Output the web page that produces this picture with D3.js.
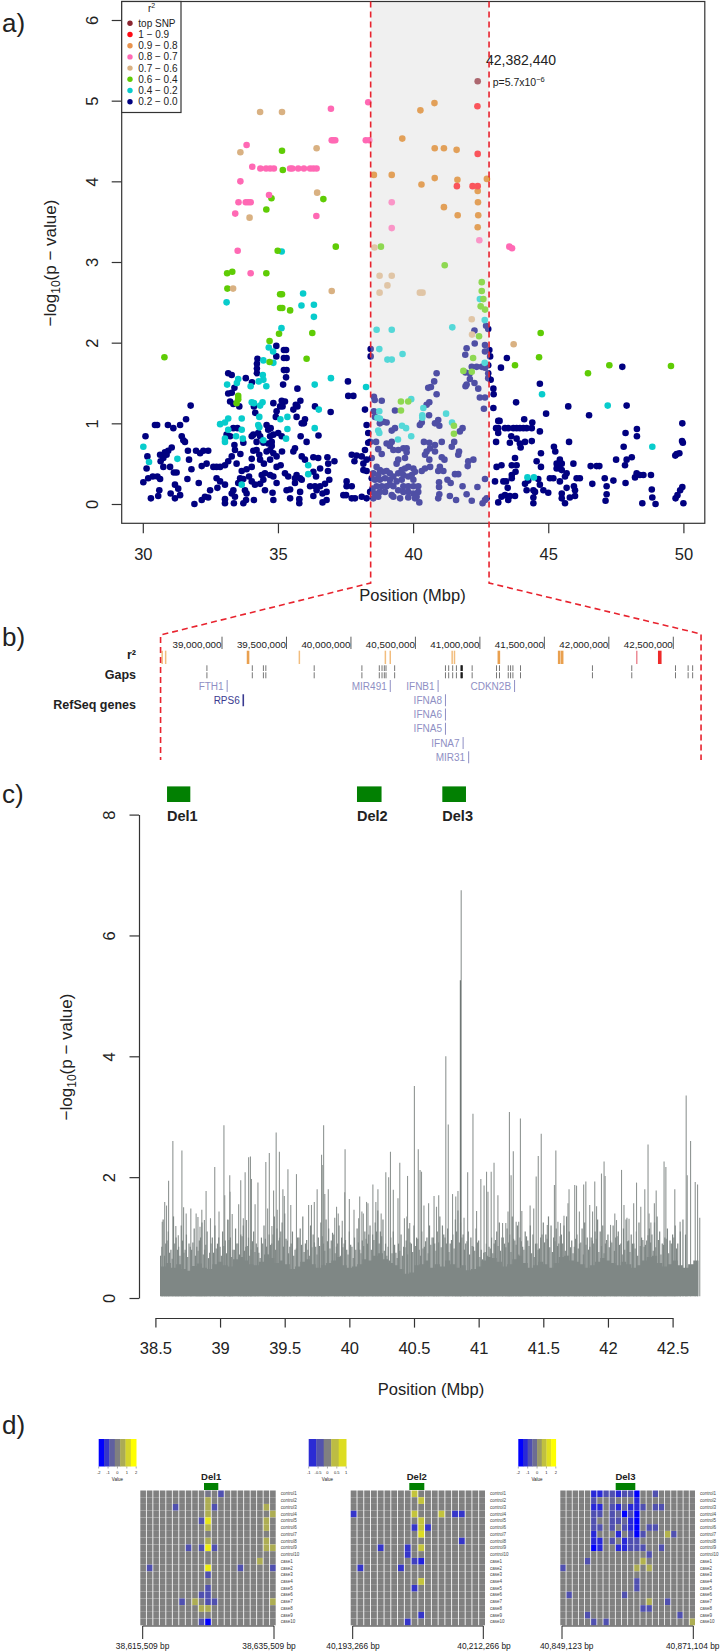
<!DOCTYPE html>
<html>
<head>
<meta charset="utf-8">
<script src="https://cdn.jsdelivr.net/npm/d3@7"></script>
<style>
body { margin: 0; background: #fff; }
text { font-family: "Liberation Sans", Arial, sans-serif; fill: #222; }
</style>
</head>
<body>
<script>
// a) -log10(p) against position in Mbp, one list for each r2 class
const topSnp = [[42.39,5.24]];
const r2Red = [[42.38,4.93],[42.39,4.34],[41.62,3.94],[42.20,3.94],[42.39,3.94]];
const r2Orange = [[40.79,4.97],[40.27,4.88],[39.60,4.53],[40.80,4.41],[41.14,4.41],[41.61,4.39],[38.55,4.08],[39.21,4.08],[40.80,4.04],[40.31,3.96],[41.64,4.02],[42.73,4.03],[42.39,3.88],[42.40,3.74],[41.14,3.68],[41.65,3.58],[42.41,3.58],[42.39,3.43]];
const r2Pink = [[38.34,4.98],[36.96,4.90],[36.99,4.51],[37.05,4.51],[37.12,4.51],[38.25,4.51],[38.38,4.51],[33.84,4.45],[34.05,4.18],[34.35,4.16],[34.56,4.16],[34.71,4.16],[34.85,4.16],[35.45,4.16],[35.53,4.16],[35.75,4.16],[35.96,4.16],[36.19,4.16],[36.31,4.16],[36.43,4.16],[33.61,4.0],[34.67,3.83],[33.54,3.74],[33.81,3.74],[33.90,3.74],[33.99,3.74],[33.42,3.60],[36.42,3.57],[33.51,3.14],[39.21,3.74],[39.21,3.42],[42.45,3.27],[43.56,3.19],[43.66,3.17],[33.99,2.86]];
const r2Tan = [[34.34,4.86],[35.15,4.86],[33.61,4.36],[36.43,4.41],[36.45,3.86],[33.95,3.55],[38.57,3.18],[33.34,2.67],[36.99,2.64],[38.76,2.83],[39.21,2.83],[39.05,2.71],[38.76,2.62],[40.25,2.62],[40.35,2.62],[42.17,2.29],[42.18,2.10],[43.72,1.98]];
const r2Green = [[35.15,4.38],[35.18,4.14],[34.76,3.79],[36.68,3.78],[34.57,3.65],[34.99,3.14],[37.14,3.19],[38.81,3.19],[41.17,2.96],[33.12,2.86],[33.31,2.88],[34.57,2.86],[33.13,2.67],[35.08,2.60],[35.15,2.60],[35.08,2.43],[35.16,2.43],[35.45,2.40],[35.04,2.11],[36.27,2.12],[34.69,2.02],[34.69,1.76],[36.06,1.80],[30.80,1.82],[33.53,1.34],[33.53,1.30],[33.47,1.25],[42.54,2.75],[42.54,2.64],[42.60,2.54],[42.50,2.45],[42.66,2.41],[42.44,2.08],[42.22,1.81],[41.86,1.65],[42.17,1.64],[43.77,1.72],[44.66,1.82],[44.72,2.12],[46.47,1.62],[47.26,1.72],[39.55,1.27],[39.82,1.27],[39.55,1.16],[41.51,0.97],[41.51,0.87],[49.54,1.71]];
const r2Cyan = [[35.14,3.13],[33.10,2.50],[35.93,2.61],[35.87,2.46],[36.33,2.47],[36.33,2.32],[35.13,2.18],[34.66,1.94],[34.82,1.89],[34.46,1.78],[34.83,1.75],[34.44,1.60],[34.46,1.54],[34.29,1.52],[33.53,1.55],[33.48,1.50],[33.12,1.48],[33.99,1.46],[34.57,1.46],[36.96,1.56],[36.36,1.48],[38.26,1.45],[34.03,1.26],[34.11,1.25],[34.43,1.26],[34.34,1.22],[36.51,1.17],[34.31,1.08],[35.35,1.08],[35.09,1.05],[32.86,0.99],[33.04,1.01],[33.16,1.06],[33.66,1.06],[33.16,0.92],[33.66,0.92],[34.27,0.98],[34.31,0.95],[36.36,0.94],[35.35,0.93],[33.04,0.81],[33.04,0.77],[33.45,0.84],[33.70,0.81],[34.46,0.79],[35.30,0.81],[30.02,0.71],[30.23,0.52],[31.28,0.56],[36.12,0.48],[36.12,0.37],[33.66,0.24],[42.47,2.54],[42.65,2.28],[38.65,2.16],[39.21,2.16],[41.45,2.19],[38.75,1.92],[39.61,1.86],[39.05,1.79],[39.21,1.79],[42.65,1.75],[39.93,1.30],[40.38,1.19],[40.34,1.10],[40.34,1.07],[41.22,1.12],[38.75,1.15],[38.68,1.07],[38.77,1.06],[39.59,0.97],[39.74,0.94],[41.44,1.01],[38.71,0.91],[38.75,0.88],[39.93,0.84],[39.44,0.80],[44.77,1.36],[47.20,1.22],[48.85,0.71],[44.23,0.33],[44.47,0.33]];
const r2Navy = [[34.94,1.96],[35.22,1.91],[35.30,1.91],[34.94,1.83],[35.22,1.81],[35.32,1.81],[34.24,1.80],[34.22,1.74],[34.22,1.68],[34.22,1.62],[35.22,1.66],[35.32,1.66],[35.30,1.57],[33.16,1.62],[33.29,1.60],[33.81,1.56],[34.04,1.51],[35.19,1.48],[35.72,1.43],[37.59,1.52],[33.39,1.44],[33.16,1.37],[33.29,1.38],[37.60,1.34],[37.79,1.34],[33.23,1.27],[33.35,1.24],[33.57,1.21],[31.77,1.22],[34.83,1.25],[35.14,1.28],[35.26,1.27],[35.08,1.21],[34.95,1.15],[35.17,1.21],[35.83,1.28],[35.66,1.23],[35.57,1.17],[35.72,1.21],[36.37,1.21],[36.95,1.14],[34.11,1.21],[34.16,1.13],[34.92,1.08],[35.69,1.08],[36.00,1.05],[35.88,1.00],[35.96,1.00],[31.60,1.05],[31.38,0.98],[31.13,0.94],[30.93,0.98],[30.45,0.98],[30.53,0.98],[33.35,0.94],[33.50,0.94],[34.58,0.98],[34.64,0.92],[34.73,0.94],[36.50,0.85],[30.10,0.84],[31.44,0.84],[31.50,0.79],[31.56,0.77],[33.10,0.86],[33.23,0.84],[33.72,0.76],[34.03,0.84],[34.09,0.86],[34.27,0.88],[34.34,0.84],[34.71,0.84],[34.83,0.86],[35.01,0.88],[35.14,0.84],[35.84,0.84],[36.06,0.77],[34.21,0.77],[34.46,0.76],[34.64,0.75],[34.77,0.77],[31.07,0.70],[30.94,0.66],[30.82,0.64],[30.64,0.61],[30.17,0.59],[30.88,0.61],[30.76,0.57],[30.66,0.53],[31.01,0.46],[30.76,0.46],[30.14,0.44],[31.67,0.66],[31.71,0.55],[31.80,0.43],[31.97,0.66],[32.12,0.63],[32.24,0.66],[32.42,0.66],[32.18,0.47],[32.36,0.50],[32.61,0.46],[32.73,0.46],[32.86,0.46],[33.04,0.48],[33.16,0.53],[33.29,0.59],[33.41,0.67],[33.39,0.73],[33.47,0.50],[33.66,0.41],[33.84,0.43],[34.03,0.46],[33.61,0.62],[34.03,0.56],[34.09,0.66],[34.21,0.67],[34.31,0.61],[34.34,0.55],[34.48,0.50],[34.58,0.65],[34.71,0.67],[34.77,0.72],[34.83,0.63],[34.71,0.55],[34.95,0.59],[34.95,0.46],[35.10,0.48],[35.15,0.65],[35.57,0.65],[35.63,0.69],[35.88,0.59],[36.00,0.55],[36.31,0.58],[36.49,0.57],[36.56,0.44],[36.31,0.40],[36.83,0.58],[36.86,0.50],[37.09,0.53],[36.85,0.41],[36.41,0.34],[37.73,0.61],[37.91,0.60],[37.83,0.53],[38.10,0.59],[38.16,0.50],[38.22,0.67],[38.16,0.42],[38.28,0.55],[38.34,0.88],[38.28,0.98],[38.34,0.76],[38.22,1.17],[38.28,0.41],[30.02,0.27],[30.20,0.32],[30.37,0.34],[30.54,0.34],[30.64,0.31],[31.25,0.39],[31.15,0.39],[31.65,0.31],[32.07,0.26],[32.73,0.32],[32.86,0.28],[33.04,0.24],[32.76,0.20],[30.61,0.17],[30.57,0.10],[30.30,0.07],[31.19,0.24],[31.31,0.19],[31.03,0.13],[31.38,0.11],[31.19,0.07],[31.91,0.0],[32.18,0.05],[32.30,0.09],[32.42,0.08],[32.49,0.17],[33.04,0.06],[33.04,0.01],[33.35,0.17],[33.29,0.13],[33.41,0.09],[33.37,0.01],[33.72,0.01],[33.82,0.05],[33.84,0.13],[33.78,0.17],[34.11,0.05],[33.60,0.32],[33.72,0.31],[33.53,0.26],[33.93,0.34],[34.03,0.28],[34.15,0.24],[34.34,0.25],[34.46,0.30],[34.40,0.36],[34.52,0.38],[34.71,0.36],[34.83,0.34],[34.95,0.26],[34.52,0.17],[34.80,0.14],[34.83,0.05],[35.32,0.17],[35.45,0.18],[35.82,0.15],[35.45,0.07],[35.79,0.06],[35.79,0.01],[36.31,0.10],[35.26,0.38],[35.38,0.34],[35.63,0.32],[35.69,0.36],[35.82,0.32],[35.88,0.30],[35.63,0.26],[36.19,0.22],[36.37,0.22],[36.56,0.22],[36.74,0.25],[36.90,0.30],[36.43,0.17],[36.65,0.13],[36.80,0.15],[36.80,0.05],[36.65,0.02],[37.54,0.28],[37.54,0.22],[37.73,0.22],[37.42,0.11],[37.52,0.11],[37.73,0.07],[37.85,0.07],[38.10,0.09],[38.28,0.07],
  [42.27,2.15],[42.70,2.21],[42.78,2.17],[38.43,1.92],[38.43,1.83],[42.28,1.99],[42.66,1.97],[41.98,1.93],[41.93,1.85],[42.66,1.89],[42.82,1.91],[42.85,1.83],[42.17,1.70],[42.35,1.70],[42.54,1.70],[42.66,1.69],[42.78,1.72],[41.94,1.63],[42.10,1.62],[40.87,1.62],[40.78,1.52],[40.56,1.44],[40.66,1.45],[40.87,1.36],[42.78,1.62],[42.78,1.56],[42.87,1.54],[42.10,1.55],[41.98,1.48],[41.94,1.46],[42.27,1.50],[42.41,1.43],[38.55,1.33],[38.58,1.29],[38.84,1.28],[39.33,1.16],[40.60,1.26],[40.50,1.23],[40.59,1.10],[42.47,1.32],[42.66,1.32],[42.62,1.18],[38.55,1.15],[38.59,1.08],[38.77,1.00],[38.90,1.02],[39.02,1.01],[40.93,1.04],[40.81,1.00],[40.97,0.97],[40.25,0.98],[40.32,1.01],[41.83,0.94],[41.73,0.90],[39.33,0.94],[39.21,0.91],[38.63,0.77],[38.41,0.77],[39.02,0.75],[39.21,0.77],[39.14,0.72],[38.71,0.68],[38.84,0.62],[38.47,0.57],[39.27,0.67],[39.45,0.67],[39.64,0.69],[39.76,0.69],[39.76,0.64],[39.70,0.57],[39.45,0.55],[39.39,0.50],[40.40,0.77],[40.60,0.76],[40.81,0.73],[41.06,0.77],[41.52,0.77],[41.43,0.71],[40.63,0.69],[40.50,0.65],[40.44,0.61],[40.60,0.55],[40.81,0.65],[41.06,0.58],[41.16,0.55],[41.70,0.65],[41.67,0.61],[42.23,0.55],[42.04,0.53],[42.02,0.47],[40.63,0.46],[40.44,0.44],[40.32,0.41],[40.99,0.46],[40.93,0.41],[41.12,0.41],[41.55,0.37],[41.67,0.37],[42.66,0.31],[41.27,0.30],[41.39,0.26],[40.96,0.27],[40.96,0.21],[41.83,0.22],[42.38,0.21],[40.97,0.12],[40.93,0.07],[41.36,0.10],[41.59,0.05],[41.98,0.12],[42.17,0.04],[42.66,0.05],[42.57,0.01],[42.72,0.07],
  [38.65,0.46],[38.77,0.42],[38.53,0.38],[38.71,0.36],[38.90,0.40],[39.02,0.41],[39.14,0.38],[38.47,0.32],[38.59,0.30],[38.77,0.30],[38.96,0.32],[39.14,0.30],[39.27,0.34],[39.45,0.38],[39.58,0.42],[39.70,0.44],[39.82,0.46],[40.01,0.44],[40.07,0.40],[39.64,0.36],[39.82,0.34],[39.95,0.36],[40.01,0.30],[39.58,0.30],[39.39,0.28],[39.27,0.22],[39.14,0.24],[39.02,0.22],[38.84,0.22],[38.65,0.22],[38.50,0.19],[38.41,0.15],[38.59,0.13],[38.77,0.15],[38.96,0.15],[39.21,0.11],[39.45,0.17],[39.64,0.22],[39.82,0.22],[40.01,0.22],[40.19,0.22],[40.19,0.15],[40.01,0.13],[39.82,0.15],[39.64,0.15],[39.52,0.07],[39.82,0.08],[40.07,0.07],[40.23,0.02],[40.13,0.09],[39.27,0.09],[38.53,0.07],[38.71,0.09],
  [43.25,1.69],[43.47,1.81],[47.74,1.70],[44.69,1.49],[42.97,1.43],[42.98,1.36],[42.97,1.19],[43.81,1.26],[45.74,1.21],[47.90,1.22],[44.92,1.12],[46.51,1.10],[43.15,1.03],[43.20,1.03],[44.11,1.05],[44.41,1.01],[43.07,0.94],[43.15,0.94],[43.40,0.94],[43.52,0.94],[43.71,0.94],[43.83,0.94],[43.95,0.94],[44.08,0.94],[44.20,0.94],[44.39,0.94],[43.15,0.88],[44.69,0.90],[43.63,0.84],[43.83,0.81],[43.58,0.76],[43.07,0.77],[44.14,0.77],[43.95,0.75],[44.39,0.78],[45.77,0.77],[43.98,0.70],[45.21,0.71],[45.26,0.65],[44.73,0.63],[47.86,0.88],[48.28,0.93],[48.28,0.84],[47.79,0.71],[47.51,0.55],[48.09,0.58],[47.90,0.55],[47.84,0.48],[43.77,0.57],[43.65,0.48],[43.83,0.48],[43.09,0.46],[43.27,0.48],[44.57,0.53],[44.73,0.46],[45.93,0.50],[45.43,0.55],[45.31,0.50],[45.50,0.50],[45.43,0.44],[45.50,0.42],[45.31,0.44],[45.68,0.38],[45.62,0.34],[46.57,0.47],[46.79,0.47],[46.89,0.47],[43.79,0.40],[43.65,0.36],[43.65,0.32],[43.03,0.28],[43.34,0.28],[43.44,0.28],[44.63,0.31],[45.06,0.32],[45.19,0.32],[45.43,0.28],[46.05,0.32],[46.17,0.32],[44.14,0.25],[44.26,0.29],[46.63,0.25],[47.09,0.32],[47.41,0.29],[47.86,0.26],[47.16,0.22],[48.27,0.38],[48.39,0.36],[48.52,0.36],[48.21,0.33],[48.80,0.36],[43.50,0.20],[44.20,0.17],[44.45,0.17],[44.51,0.15],[44.69,0.24],[44.82,0.17],[45.00,0.14],[45.68,0.20],[45.95,0.22],[45.99,0.17],[45.50,0.13],[45.80,0.08],[45.99,0.10],[43.27,0.09],[43.40,0.11],[43.58,0.10],[43.77,0.10],[43.15,0.02],[43.52,0.05],[44.45,0.08],[44.45,0.01],[45.50,0.07],[45.62,0.01],[47.16,0.12],[47.12,0.04],[48.48,0.01],[48.83,0.18],[48.85,0.08],[48.97,0.0],[49.96,0.21],[49.88,0.17],[49.78,0.11],[49.71,0.07],[50.0,0.01],[49.96,1.0],[49.95,0.78],[49.85,0.63],[49.70,0.60],[49.98,0.76],[49.75,0.62]];

const legendLabels = ['top SNP', '1 \u2212 0.9', '0.9 \u2212 0.8', '0.8 \u2212 0.7', '0.7 \u2212 0.6', '0.6 \u2212 0.4', '0.4 \u2212 0.2', '0.2 \u2212 0.0'];
const legendColors = ['#8b2530', '#ff0a14', '#e8934e', '#ff69b4', '#d9b182', '#5fcc05', '#08cccc', '#000080'];
const pointSeries = [r2Navy, r2Cyan, r2Green, r2Tan, r2Pink, r2Orange, r2Red, topSnp];
const seriesColors = ['#000080', '#08cccc', '#5fcc05', '#d9b182', '#ff69b4', '#dc7a10', '#ff0a14', '#8b2530'];
const xTicksA = [30, 35, 40, 45, 50];
const yTicksA = [0, 1, 2, 3, 4, 5, 6];
const shadedRange = [38.43, 42.81];

// b) genome track
const trackTicks = [39000000, 39500000, 40000000, 40500000, 41000000, 41500000, 42000000, 42500000];
const r2BarsLight = [38.536, 38.563, 39.60, 40.267, 40.305, 40.785, 40.803];
const r2BarsStrong = [39.202, 41.147, 41.615, 41.638];
const r2BarsPink = [42.217];
const r2BarsRed = [42.395];
const gapPositions = [38.883, 39.235, 39.321, 39.34, 39.715, 40.085, 40.22, 40.241, 40.259, 40.272, 40.339, 40.733, 40.758, 40.789, 40.818, 40.94, 41.129, 41.152, 41.22, 41.238, 41.256, 41.315, 41.873, 42.178, 42.517, 42.615, 42.65];
const gapDark = [40.855, 40.862];
const geneNames = ['FTH1', 'RPS6', 'MIR491', 'IFNB1', 'IFNA8', 'IFNA6', 'IFNA5', 'IFNA7', 'MIR31', 'CDKN2B'];
const genePositions = [39.04, 39.165, 40.305, 40.676, 40.733, 40.733, 40.733, 40.87, 40.913, 41.269];
const geneRows = [0, 1, 0, 0, 1, 2, 3, 4, 5, 0];

// c) single marker scan: dense floor, mid level texture and the peaks above it
const scanStart = 38.54;
const floorStep = 0.04;
const midStep = 0.02;
const floorTop = [0.52,0.58,0.50,0.56,0.48,0.45,0.53,0.57,0.50,0.48,0.56,0.60,0.54,0.52,0.64,0.68,0.62,0.56,0.54,0.60,0.72,0.66,0.58,0.62,0.56,0.48,0.52,0.60,0.64,0.56,0.50,0.54,0.58,0.62,0.68,0.54,0.50,0.52,0.56,0.64,0.62,0.70,0.74,0.64,0.58,0.54,0.48,0.40,0.42,0.54,0.56,0.62,0.50,0.56,0.52,0.62,0.56,0.50,0.54,0.46,0.48,0.52,0.62,0.68,0.66,0.60,0.52,0.56,0.64,0.70,0.58,0.50,0.54,0.60,0.56,0.50,0.58,0.68,0.70,0.62,0.60,0.56,0.50,0.54,0.60,0.66,0.62,0.58,0.54,0.60,0.56,0.50,0.54,0.62,0.68,0.70,0.58,0.52,0.56,0.62,0.54,0.50,0.56,0.62,0.58];
const midLevel = [0.7,1.3,0.9,1.1,0.8,1.35,1.0,0.85,1.2,0.75,1.05,0.9,0.8,1.15,0.85,0.95,1.25,0.8,1.1,0.75,1.0,1.2,0.9,0.85,1.1,0.95,1.3,1.0,0.8,1.15,0.9,1.05,1.2,0.85,1.0,0.8,1.1,0.9,0.75,1.0,1.2,0.85,1.05,0.9,1.35,1.15,1.0,1.25,1.4,0.95,0.85,1.1,0.8,1.0,1.15,1.35,0.9,0.8,1.2,1.05,0.85,1.0,1.25,0.9,1.3,1.15,0.95,1.05,0.85,1.2,1.0,0.9,0.8,1.1,0.85,1.0,1.15,0.8,0.95,1.1,0.9,1.2,1.05,1.25,1.45,1.1,1.3,0.9,0.85,1.0,1.1,0.75,0.9,1.05,0.85,0.95,1.15,0.9,1.2,1.0,0.8,1.1,0.85,1.0,1.2,1.0,0.9,1.1,1.35,1.2,1.0,1.15,0.9,1.05,1.3,1.45,1.25,1.05,0.9,1.1,1.0,0.85,1.15,0.95,0.8,0.75,0.9,0.85,1.0,0.9,1.1,1.25,1.0,0.9,1.15,1.05,1.35,0.95,1.2,1.0,0.85,1.1,0.95,1.2,1.05,0.9,0.8,1.0,1.25,1.05,1.35,1.2,1.0,1.15,0.9,1.05,1.2,1.35,1.1,0.95,0.85,1.05,0.9,1.15,1.25,1.0,0.85,0.95,1.1,1.3,1.1,1.2,0.9,1.05,0.95,1.2,1.0,1.1,0.9,1.15,1.3,0.95,1.05,0.9,1.1,1.25,1.0,0.85,0.95,1.15,1.05,1.25,1.35,1.1,0.9,1.0,1.15,0.95,1.05,1.2,0.9,1.1,1.3,1.05];
const midLevelLow = [0.85,0.7,0.95,0.75,0.65,0.9,0.8,0.7,0.95,0.8,0.68,0.85,0.92,0.7,0.78,1.0,0.72,0.88,0.66,0.9,0.75,0.82,1.0,0.7,0.86,0.74,0.96,0.68,0.8,0.9,0.72,1.02,0.78,0.86,0.7,0.94,0.76,0.84,0.66,0.9,0.98,0.72,0.88,1.05,0.8,0.95,1.1,0.85,0.98,0.74,0.9,0.7,0.82,1.0,0.88,0.76,0.96,0.7,0.84,0.92,0.72,0.86,1.02,0.78,0.94,0.82,1.08,0.74,0.9,0.7,0.84,0.96,0.72,0.88,0.66,0.8,0.92,0.74,0.86,0.98,1.05,0.8,0.96,1.1,0.9,1.02,0.78,0.7,0.62,0.74,0.88,0.66,0.78,0.7,0.84,0.72,0.92,0.76,0.86,0.98,0.7,0.82,0.94,0.74,0.88,1.0,0.78,0.92,0.84,1.05,0.9,0.76,0.96,0.82,1.1,0.92,1.0,0.8,0.94,0.72,0.86,0.78,0.92,0.68,0.64,0.76,0.7,0.82,0.74,0.96,0.86,0.78,1.0,0.84,0.92,0.76,0.98,0.88,0.72,0.94,0.8,1.02,0.86,0.74,0.68,0.9,0.82,1.05,0.92,0.98,0.84,0.76,0.94,0.86,1.02,0.9,0.78,0.7,0.84,0.74,0.98,0.82,0.92,0.72,0.88,0.8,1.0,0.9,0.98,0.76,0.86,0.74,0.96,0.84,0.92,0.78,1.02,0.88,0.72,0.8,0.94,0.76,0.9,0.82,0.7,0.86,0.96,0.88,1.04,0.92,0.78,0.84,0.96,0.72,0.88,0.98,0.74,0.9,1.0,0.82];
const scanPeaks = [[38.553,1.26],[38.572,1.59],[38.586,1.53],[38.602,1.94],[38.635,2.60],[38.658,1.19],[38.677,1.04],[38.705,2.44],[38.718,1.50],[38.738,1.40],[38.774,1.48],[38.815,1.40],[38.829,1.34],[38.845,1.18],[38.859,1.46],[38.879,1.29],[38.892,1.77],[38.926,1.32],[38.959,2.17],[38.992,1.43],[39.03,2.86],[39.036,1.70],[39.061,1.29],[39.075,2.03],[39.077,1.76],[39.094,1.39],[39.144,1.55],[39.16,1.95],[39.18,1.32],[39.194,2.08],[39.205,1.29],[39.221,2.33],[39.235,2.34],[39.243,1.97],[39.271,1.55],[39.293,1.91],[39.354,2.25],[39.368,1.48],[39.381,2.40],[39.401,1.19],[39.414,1.78],[39.434,2.74],[39.442,1.46],[39.459,2.42],[39.486,1.80],[39.497,1.69],[39.525,2.13],[39.547,1.54],[39.591,2.05],[39.685,1.54],[39.707,1.54],[39.729,1.59],[39.751,1.80],[39.785,2.37],[39.79,2.20],[39.801,2.86],[39.81,1.72],[39.837,1.80],[39.887,1.33],[39.901,1.51],[39.914,1.40],[39.945,1.28],[39.964,1.75],[39.967,2.46],[40.0,1.64],[40.036,1.46],[40.072,1.32],[40.08,1.68],[40.097,1.43],[40.108,1.40],[40.133,1.59],[40.144,1.57],[40.182,1.88],[40.205,1.59],[40.221,1.80],[40.246,1.40],[40.282,2.08],[40.304,2.0],[40.318,2.42],[40.34,1.79],[40.376,1.65],[40.39,2.24],[40.426,1.32],[40.445,1.35],[40.45,2.02],[40.467,1.24],[40.503,3.51],[40.533,2.46],[40.547,2.12],[40.558,2.09],[40.577,1.53],[40.613,1.57],[40.655,1.69],[40.674,1.51],[40.691,1.70],[40.746,4.0],[40.765,2.87],[40.798,1.72],[40.823,1.68],[40.84,1.77],[40.865,6.75],[40.887,1.33],[40.915,2.08],[40.956,3.05],[40.984,1.44],[41.017,1.97],[41.042,1.86],[41.061,2.09],[41.072,1.76],[41.097,2.09],[41.119,2.24],[41.149,1.70],[41.185,1.24],[41.21,1.24],[41.227,1.43],[41.238,3.08],[41.251,2.03],[41.268,2.43],[41.29,1.26],[41.31,1.26],[41.323,2.97],[41.334,1.44],[41.398,1.53],[41.426,1.48],[41.445,2.01],[41.461,2.35],[41.484,2.72],[41.531,1.21],[41.586,1.87],[41.597,2.44],[41.613,1.26],[41.633,1.24],[41.66,1.36],[41.691,1.57],[41.699,1.80],[41.743,1.87],[41.757,1.86],[41.779,1.43],[41.812,1.88],[41.829,1.93],[41.859,1.54],[41.881,1.43],[41.898,1.93],[41.912,1.52],[41.95,2.06],[41.97,2.26],[41.978,2.02],[42.02,1.21],[42.053,1.40],[42.066,1.29],[42.105,2.12],[42.124,1.54],[42.147,1.33],[42.163,1.31],[42.199,1.57],[42.221,1.91],[42.254,1.51],[42.285,1.80],[42.31,2.54],[42.318,1.40],[42.332,1.25],[42.359,1.57],[42.373,1.78],[42.434,2.26],[42.448,2.17],[42.517,1.80],[42.558,1.26],[42.605,3.35],[42.613,2.03],[42.639,2.60],[42.675,1.92],[42.693,1.88],[42.71,1.33]];
const scanDarkPeaks = [[40.859,5.26]];
const xTicksC = [38.5, 39, 39.5, 40, 40.5, 41, 41.5, 42, 42.5];
const yTicksC = [0, 2, 4, 6, 8];
const delNames = ['Del1', 'Del2', 'Del3'];
const delStart = [38.59, 40.059, 40.719];
const delEnd = [38.77, 40.249, 40.902];

// d) heatmaps, [row, column, value], every other cell is 0
const sampleNames = ['control1','control2','control3','control4','control5','control6','control7','control8','control9','control10','case1','case2','case3','case4','case5','case6','case7','case8','case9','case10'];
const del1Cells = [[0,12,-1],[0,10,-0.2],[1,10,0.7],[2,5,-1],[2,10,0.7],[2,11,-1],[2,19,0.7],[3,10,0.7],[3,20,0.7],[4,9,-1],[4,10,1.6],[4,19,0.7],[5,10,0.8],[5,19,0.7],[7,10,0.7],[7,19,0.7],[8,7,-1],[8,9,-1],[8,10,1.7],[8,11,-1],[8,19,0.7],[8,20,0.7],[10,18,0.7],[11,1,-1],[11,10,1.7],[11,15,-1],[11,20,-1],[12,10,-1],[14,10,-1],[15,9,-1],[15,10,-1],[16,6,-1],[16,8,0.7],[16,10,-1],[16,11,-1],[16,20,0.7],[17,9,0.7],[17,10,0.7],[19,9,-1],[19,10,-2]];
const del2Cells = [[0,9,0.8],[1,10,0.8],[3,0,-1],[3,9,0.8],[3,13,0.8],[3,15,-1],[3,16,-1],[4,10,0.8],[5,9,-1],[5,10,0.8],[5,11,-1],[6,10,1.1],[7,16,-1],[8,4,-1],[8,8,-1],[8,10,0.8],[9,8,-1],[10,9,-0.9],[10,10,-1.2],[11,1,-1],[11,7,-1],[13,10,0.8],[14,9,-1],[18,10,-1],[19,8,-1]];
const del3Cells = [[0,5,-1.5],[0,6,-1.5],[0,7,-1],[0,8,-1],[0,9,-1.5],[0,10,-1],[0,11,-1],[0,12,-2],[0,15,-1],[1,5,-1],[1,8,-0.5],[1,12,-1.5],[2,5,-1.5],[2,6,-1.5],[2,8,-1],[2,9,-1.5],[2,10,-0.5],[2,11,-1.5],[2,12,-1.5],[2,13,-1],[2,15,-1],[2,16,-1],[3,5,-1],[3,6,-1],[3,8,-1],[3,9,-0.5],[3,10,-2],[3,11,-1],[3,12,-2],[4,5,-1],[4,8,-1],[4,9,-1],[4,10,-0.5],[4,11,-1.5],[4,12,-2],[5,5,-1],[5,6,-1],[5,8,-1],[5,10,-1],[5,11,-1.5],[5,12,-2],[5,14,-1],[5,15,-1],[6,5,-1.5],[6,9,-1.5],[6,11,-1],[6,12,-2],[6,13,-1],[6,17,0.8],[6,18,-1],[7,5,-1.5],[7,6,-1.5],[7,8,-1],[7,10,-1.5],[7,11,-1],[7,12,-1],[8,5,-2],[8,6,-1.5],[8,9,-1.5],[8,10,-1.5],[8,11,-1],[8,12,-1],[8,13,-1],[8,16,-1],[9,14,-1],[10,4,-1],[10,13,0.8],[11,0,-1],[11,12,0.7],[11,14,0.7],[13,12,-1],[14,12,-1],[15,1,-1],[15,10,-1],[16,14,0.7],[16,17,-1],[17,13,-1],[17,14,-1],[18,4,-1],[18,19,-1],[19,5,-1],[19,7,-1],[19,21,0.7]];
const del1Legend = [-2, -1.33, -0.67, 0, 0.67, 1.33, 2];
const del2Legend = [-1.1, -0.7, 0, 0.7, 1.1];
const del3Legend = [-2, -1.5, -1, -0.4, 0.4, 1, 1.5, 2];
const del1LegendTicks = [-2, -1, 0, 1, 2];
const del2LegendTicks = [-1, -0.5, 0, 0.5, 1];
const del3LegendTicks = [-2, -1, 0, 1, 2];
const del1Coords = ['38,615,509 bp', '38,635,509 bp'];
const del2Coords = ['40,193,266 bp', '40,212,266 bp'];
const del3Coords = ['40,849,123 bp', '40,871,104 bp'];

const svg = d3.select('body').append('svg')
  .attr('width', 721).attr('height', 1652);

const panelLabels = [['a)', 32], ['b)', 646], ['c)', 803], ['d)', 1434]];
svg.selectAll('text.panel').data(panelLabels).enter().append('text')
  .attr('class', 'panel')
  .attr('x', 2).attr('y', d => d[1])
  .attr('font-size', 26)
  .text(d => d[0]);

function rLabel(g, x, y) {
  const t = g.append('text')
    .attr('transform', `translate(${x},${y}) rotate(-90)`)
    .attr('text-anchor', 'middle')
    .attr('font-size', 17);
  t.append('tspan').text('\u2212log');
  t.append('tspan').attr('font-size', 12).attr('dy', 4).text('10');
  t.append('tspan').attr('dy', -4).text('(p \u2212 value)');
}

function styleAxis(g) {
  g.selectAll('path, line').attr('stroke', '#333').attr('stroke-width', 1.2);
  g.selectAll('text').attr('font-size', 16.5).style('font-family', '"Liberation Sans", Arial, sans-serif').attr('fill', '#222');
}

function rotateTicks(g) {
  g.selectAll('text')
    .attr('transform', 'rotate(-90)')
    .attr('x', 0).attr('y', -24).attr('dy', 0)
    .attr('text-anchor', 'middle');
}

// panel a
const xA = d3.scaleLinear().domain([30, 50]).range([142.8, 683.4]);
const yA = d3.scaleLinear().domain([0, 6]).range([504, 20]);
const boxA = { left: 121.7, right: 704.8, top: 1.5, bottom: 523.3 };

svg.append('rect')
  .attr('x', xA(shadedRange[0])).attr('width', xA(shadedRange[1]) - xA(shadedRange[0]))
  .attr('y', boxA.top).attr('height', boxA.bottom - boxA.top)
  .attr('fill', '#f0f0f0');

pointSeries.forEach((series, i) => {
  svg.append('g').selectAll('circle').data(series).enter().append('circle')
    .attr('cx', d => xA(d[0]))
    .attr('cy', d => yA(d[1]))
    .attr('r', 3.3)
    .attr('fill', seriesColors[i]);
});

svg.append('rect')
  .attr('x', xA(shadedRange[0])).attr('width', xA(shadedRange[1]) - xA(shadedRange[0]))
  .attr('y', boxA.top).attr('height', boxA.bottom - boxA.top)
  .attr('fill', '#f0f0f0').attr('opacity', 0.33);

svg.append('rect')
  .attr('x', boxA.left).attr('y', boxA.top)
  .attr('width', boxA.right - boxA.left).attr('height', boxA.bottom - boxA.top)
  .attr('fill', 'none').attr('stroke', '#333').attr('stroke-width', 1.2);

const axisXA = svg.append('g').attr('transform', `translate(0,${boxA.bottom})`)
  .call(d3.axisBottom(xA).tickValues(xTicksA).tickSize(10).tickPadding(15).tickFormat(d3.format('d')));
axisXA.select('.domain').remove();
styleAxis(axisXA);

const axisYA = svg.append('g').attr('transform', `translate(${boxA.left},0)`)
  .call(d3.axisLeft(yA).tickValues(yTicksA).tickSize(10).tickFormat(d3.format('d')));
axisYA.select('.domain').remove();
styleAxis(axisYA);
rotateTicks(axisYA);

rLabel(svg, 56, 263);
svg.append('text').attr('x', 412.5).attr('y', 601)
  .attr('text-anchor', 'middle').attr('font-size', 16.5).text('Position (Mbp)');

// legend of panel a
const legendA = svg.append('g');
legendA.append('rect')
  .attr('x', boxA.left).attr('y', boxA.top)
  .attr('width', 59.3).attr('height', 111)
  .attr('fill', '#fff').attr('stroke', '#333').attr('stroke-width', 1.2);
const legendR = legendA.append('text').attr('x', 148).attr('y', 12).attr('font-size', 10);
legendR.append('tspan').text('r');
legendR.append('tspan').attr('font-size', 7).attr('dy', -4).text('2');
const legendY = d3.scalePoint().domain(legendLabels).range([23.3, 101.7]);
legendA.selectAll('circle').data(legendLabels).enter().append('circle')
  .attr('cx', 130).attr('cy', d => legendY(d)).attr('r', 2.7)
  .attr('fill', (d, i) => legendColors[i]);
legendA.selectAll('text.entry').data(legendLabels).enter().append('text')
  .attr('class', 'entry')
  .attr('x', 138.3).attr('y', d => legendY(d) + 3.5)
  .attr('font-size', 10)
  .text(d => d);

svg.append('text').attr('x', 486).attr('y', 65).attr('font-size', 14).text('42,382,440');
const pText = svg.append('text').attr('x', 492.7).attr('y', 86).attr('font-size', 10.5);
pText.append('tspan').text('p=5.7x10');
pText.append('tspan').attr('font-size', 7.5).attr('dy', -4).text('\u22126');

// panel b
const xB = d3.scaleLinear().domain([39, 42.5]).range([222, 673.3]);

const axisB = svg.append('g').attr('transform', 'translate(0,649)');
axisB.selectAll('line').data(trackTicks).enter().append('line')
  .attr('x1', d => xB(d / 1e6)).attr('x2', d => xB(d / 1e6))
  .attr('y1', -12.3).attr('y2', 0)
  .attr('stroke', '#333').attr('stroke-width', 0.8);
axisB.selectAll('text').data(trackTicks).enter().append('text')
  .attr('x', d => xB(d / 1e6) - 0.5).attr('y', -1)
  .attr('text-anchor', 'end').attr('font-size', 9.8)
  .text(d => d3.format(',')(d));

const trackLabels = [['r\u00b2', 659], ['Gaps', 678.5], ['RefSeq genes', 708.5]];
svg.selectAll('text.track').data(trackLabels).enter().append('text')
  .attr('class', 'track')
  .attr('x', 136).attr('y', d => d[1])
  .attr('text-anchor', 'end').attr('font-weight', 'bold').attr('font-size', 12.5)
  .text(d => d[0]);

function r2Bars(values, color, width) {
  svg.append('g').selectAll('line').data(values).enter().append('line')
    .attr('x1', d => xB(d)).attr('x2', d => xB(d))
    .attr('y1', 650.7).attr('y2', 664)
    .attr('stroke', color).attr('stroke-width', width);
}
r2Bars(r2BarsLight, '#f2bd7e', 1.5);
r2Bars(r2BarsStrong, '#e9a04f', 2.6);
r2Bars(r2BarsPink, '#e8707c', 1.2);
r2Bars(r2BarsRed, '#ee2a2a', 3.6);

function gapBars(values, color, width) {
  [[665.3, 671], [672.3, 678.3]].forEach(seg => {
    svg.append('g').selectAll('line').data(values).enter().append('line')
      .attr('x1', d => xB(d)).attr('x2', d => xB(d))
      .attr('y1', seg[0]).attr('y2', seg[1])
      .attr('stroke', color).attr('stroke-width', width);
  });
}
gapBars(gapPositions, '#777', 1);
gapBars(gapDark, '#111', 1.4);

const geneY = d3.scaleLinear().domain([0, 5]).range([686, 757.3]);
const genes = geneNames.map((name, i) => ({ name: name, pos: genePositions[i], row: geneRows[i] }));
const geneColor = d => d.name === 'RPS6' ? '#3a3a90' : '#8f8fc4';
svg.append('g').selectAll('line').data(genes).enter().append('line')
  .attr('x1', d => xB(d.pos)).attr('x2', d => xB(d.pos))
  .attr('y1', d => geneY(d.row) - 6).attr('y2', d => geneY(d.row) + 6)
  .attr('stroke', geneColor).attr('stroke-width', d => d.name === 'RPS6' ? 1.6 : 1);
svg.append('g').selectAll('text').data(genes).enter().append('text')
  .attr('x', d => xB(d.pos) - 3.5).attr('y', d => geneY(d.row) + 3.5)
  .attr('text-anchor', 'end').attr('font-size', 10)
  .style('fill', geneColor)
  .text(d => d.name);

// panel c
const xC = d3.scaleLinear().domain([38.5, 42.5]).range([155.4, 672.6]);
const yC = d3.scaleLinear().domain([0, 8]).range([1298, 814.6]);
const scanColor = '#7f8785';

svg.append('g').selectAll('line').data(scanPeaks).enter().append('line')
  .attr('x1', d => xC(d[0])).attr('x2', d => xC(d[0]))
  .attr('y1', yC(0.03)).attr('y2', d => yC(d[1]))
  .attr('stroke', '#8f9593').attr('stroke-width', 1.1);

[[midLevel, 0], [midLevelLow, 0.01]].forEach(layer => {
  svg.append('g').selectAll('line').data(layer[0]).enter().append('line')
    .attr('x1', (d, i) => xC(scanStart + i * midStep + layer[1]))
    .attr('x2', (d, i) => xC(scanStart + i * midStep + layer[1]))
    .attr('y1', yC(0.03)).attr('y2', d => yC(d))
    .attr('stroke', scanColor).attr('stroke-width', 1.2);
});

svg.append('g').selectAll('line').data(scanDarkPeaks).enter().append('line')
  .attr('x1', d => xC(d[0])).attr('x2', d => xC(d[0]))
  .attr('y1', yC(0.03)).attr('y2', d => yC(d[1]))
  .attr('stroke', '#6f7775').attr('stroke-width', 1.2);

svg.append('path').datum(floorTop)
  .attr('fill', scanColor)
  .attr('d', d3.area()
    .curve(d3.curveStepAfter)
    .x((d, i) => xC(scanStart + i * floorStep))
    .y0(yC(0.03))
    .y1(d => yC(d)));

const axisXC = svg.append('g').attr('transform', 'translate(0,1318)')
  .call(d3.axisBottom(xC).tickValues(xTicksC).tickSize(9.6).tickSizeOuter(0).tickPadding(15).tickFormat(d => d));
styleAxis(axisXC);

const axisYC = svg.append('g').attr('transform', 'translate(139,0)')
  .call(d3.axisLeft(yC).tickValues(yTicksC).tickSize(9.5).tickSizeOuter(0));
styleAxis(axisYC);
rotateTicks(axisYC);

rLabel(svg, 72, 1057);
svg.append('text').attr('x', 431).attr('y', 1395)
  .attr('text-anchor', 'middle').attr('font-size', 16.5).text('Position (Mbp)');

delNames.forEach((name, i) => {
  svg.append('rect')
    .attr('x', xC(delStart[i])).attr('width', xC(delEnd[i]) - xC(delStart[i]))
    .attr('y', 786.4).attr('height', 15.6)
    .attr('fill', '#028002');
  svg.append('text')
    .attr('x', xC(delStart[i])).attr('y', 821)
    .attr('font-weight', 'bold').attr('font-size', 14.5)
    .text(name);
});

// funnel between panels a, b and c
const funnel = [
  [[xA(shadedRange[0]), 1.5], [xA(shadedRange[0]), 583], [xC(38.54), 635], [xC(38.54), 760]],
  [[xA(shadedRange[1]), 1.5], [xA(shadedRange[1]), 583], [xC(42.72), 634], [xC(42.72), 760]]
];
svg.append('g').selectAll('path').data(funnel).enter().append('path')
  .attr('d', d3.line())
  .attr('fill', 'none')
  .attr('stroke', '#e8232e').attr('stroke-width', 1.6).attr('stroke-dasharray', '6,4');

// panel d
const maxValue = [2, 1.5, 2];
function heatmap(o) {
  const m = o.max;
  const color = d3.scaleLinear()
    .domain([-m, -m / 2, 0, m / 2, m])
    .range(['#0000ff', '#5050b0', '#808080', '#c0c040', '#ffff00'])
    .clamp(true);
  const columns = d3.range(o.nCols);
  const x = d3.scaleBand().domain(columns).range([o.left, o.right]).paddingInner(0.13);
  const y = d3.scaleBand().domain(sampleNames).range([1490.5, 1625.3]).paddingInner(0.015);
  const cells = [];
  sampleNames.forEach((s, r) => columns.forEach(c => {
    const hit = o.cells.find(e => e[0] === r && e[1] === c);
    cells.push({ row: s, col: c, value: hit ? hit[2] : 0 });
  }));
  const g = svg.append('g');
  g.selectAll('rect.cell').data(cells).enter().append('rect')
    .attr('class', 'cell')
    .attr('x', d => x(d.col)).attr('y', d => y(d.row))
    .attr('width', x.bandwidth()).attr('height', y.bandwidth())
    .attr('fill', d => color(d.value));
  g.selectAll('text.sample').data(sampleNames).enter().append('text')
    .attr('class', 'sample')
    .attr('x', o.right + 5).attr('y', d => y(d) + y.bandwidth() / 2 + 1.5)
    .attr('font-size', 4.5).style('fill', '#444')
    .text(d => d);

  // colour key
  const key = d3.scaleBand().domain(d3.range(o.legend.length)).range([o.keyLeft, o.keyLeft + 37.5]);
  g.selectAll('rect.key').data(o.legend).enter().append('rect')
    .attr('class', 'key')
    .attr('x', (d, i) => key(i)).attr('y', 1439)
    .attr('width', key.bandwidth() + 0.3).attr('height', 27.5)
    .attr('fill', d => color(d));
  const keyTick = d3.scaleLinear().domain(d3.extent(o.legendTicks)).range([o.keyLeft, o.keyLeft + 37.5]);
  g.selectAll('line.keytick').data(o.legendTicks).enter().append('line')
    .attr('class', 'keytick')
    .attr('x1', d => keyTick(d)).attr('x2', d => keyTick(d))
    .attr('y1', 1466.5).attr('y2', 1468.5)
    .attr('stroke', '#333').attr('stroke-width', 0.4);
  g.selectAll('text.keylabel').data(o.legendTicks).enter().append('text')
    .attr('class', 'keylabel')
    .attr('x', d => keyTick(d)).attr('y', 1474)
    .attr('text-anchor', 'middle').attr('font-size', 4)
    .text(d => d);
  g.append('text').attr('x', o.keyLeft + 18.7).attr('y', 1481)
    .attr('text-anchor', 'middle').attr('font-size', 4.5).text('Value');

  g.append('rect')
    .attr('x', o.boxLeft).attr('width', o.boxWidth)
    .attr('y', 1483).attr('height', 7)
    .attr('fill', '#028002');
  g.append('text').attr('x', o.boxLeft + o.boxWidth / 2).attr('y', 1480)
    .attr('text-anchor', 'middle').attr('font-weight', 'bold').attr('font-size', 9.5)
    .text(o.name);

  g.append('path')
    .attr('d', `M${o.brLeft},1639V1626H${o.brRight}V1639`)
    .attr('fill', 'none').attr('stroke', '#222').attr('stroke-width', 1);
  g.append('text').attr('x', o.coordX[0]).attr('y', 1648.5)
    .attr('text-anchor', 'middle').attr('font-size', 8.4).text(o.coords[0]);
  g.append('text').attr('x', o.coordX[1]).attr('y', 1648.5)
    .attr('text-anchor', 'middle').attr('font-size', 8.4).text(o.coords[1]);
}

heatmap({ name: delNames[0], cells: del1Cells, nCols: 21, max: maxValue[0], left: 140.3, right: 275.7,
  legend: del1Legend, legendTicks: del1LegendTicks, keyLeft: 98.7, boxLeft: 204, boxWidth: 14.3,
  brLeft: 142.7, brRight: 274, coords: del1Coords, coordX: [142.6, 269] });
heatmap({ name: delNames[1], cells: del2Cells, nCols: 20, max: maxValue[1], left: 350.7, right: 485,
  legend: del2Legend, legendTicks: del2LegendTicks, keyLeft: 308.7, boxLeft: 409.3, boxWidth: 15,
  brLeft: 352.7, brRight: 483.3, coords: del2Coords, coordX: [353, 484] });
heatmap({ name: delNames[2], cells: del3Cells, nCols: 22, max: maxValue[2], left: 560.3, right: 695,
  legend: del3Legend, legendTicks: del3LegendTicks, keyLeft: 518.3, boxLeft: 615.7, boxWidth: 19.6,
  brLeft: 562, brRight: 693.3, coords: del3Coords, coordX: [566.7, 692.7] });
</script>
</body>
</html>
